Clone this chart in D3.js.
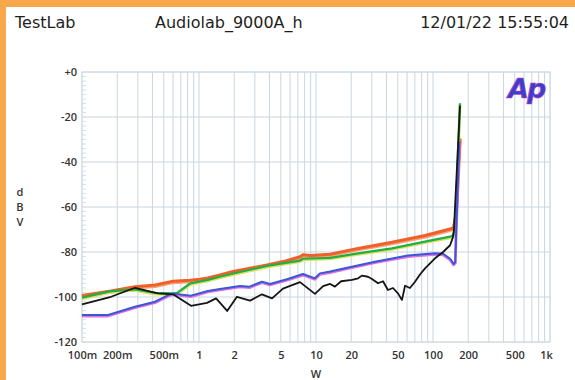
<!DOCTYPE html>
<html>
<head>
<meta charset="utf-8">
<script src="https://cdn.jsdelivr.net/npm/d3@7"></script>
<style>
  html, body { margin: 0; padding: 0; background: #fff; }
  svg { display: block; font-family: "Open Sans", "DejaVu Sans", sans-serif; }
</style>
</head>
<body>
<svg width="575" height="380"></svg>
<script>
// power in W, level in dBV
const xTicks = [0.1, 0.2, 0.5, 1, 2, 5, 10, 20, 50, 100, 200, 500, 1000];
const xTickLabels = ['100m', '200m', '500m', '1', '2', '5', '10', '20', '50', '100', '200', '500', '1k'];
const yTicks = [0, -20, -40, -60, -80, -100, -120];
const yTickLabels = ['+0', '-20', '-40', '-60', '-80', '-100', '-120'];

const orangeW  = [0.1, 0.177, 0.284, 0.421, 0.6, 0.84, 1.02, 1.19, 1.51, 1.95, 2.4, 3.81, 5.5, 7.3, 7.74, 9.0, 13.2, 22.9, 44.6, 85.5, 140, 150, 157, 170];
const orangeDb = [-99.3, -97.3, -95.4, -94.7, -93.0, -92.6, -92.1, -91.5, -90.2, -88.7, -87.8, -85.8, -84.0, -82.1, -81.2, -81.6, -81.0, -78.4, -75.7, -72.7, -69.8, -69.3, -64, -29.5];

const greenW  = [0.1, 0.173, 0.284, 0.421, 0.6, 0.65, 0.84, 1.19, 1.5, 2.24, 3.8, 7.3, 7.74, 13.2, 22.9, 44.6, 85.5, 140, 150, 157, 170];
const greenDb = [-100.3, -97.5, -96.6, -98.2, -98.4, -98.2, -94.0, -92.4, -91.0, -88.9, -86.2, -83.8, -83.0, -82.6, -80.6, -78.4, -75.4, -73.2, -72.5, -65, -13.9];

const blueW  = [0.1, 0.167, 0.284, 0.421, 0.565, 0.6, 0.855, 1.19, 1.51, 2.24, 2.7, 3.45, 4.04, 5.65, 7.74, 9.8, 10.8, 13.2, 17.7, 31.9, 61.1, 104, 122, 140, 150, 155, 158, 168];
const blueDb = [-108, -108, -104.3, -102.1, -98.8, -98.5, -99.4, -97.3, -96.4, -95.1, -95.4, -93.2, -94.2, -92.1, -89.8, -91.7, -89.5, -88.7, -87.2, -84.3, -81.6, -80.6, -80.8, -83.0, -85.3, -84.5, -70, -31];

const blackW  = [0.1, 0.177, 0.284, 0.446, 0.6, 0.855, 1.17, 1.4, 1.74, 2.11, 2.73, 3.45, 4.21, 5.22, 7.3, 9.8, 11.5, 13.2, 14.5, 16.4, 20.3, 22.9, 24.7, 27.8, 30.1, 33.9, 37.4, 41.2, 45.5, 50.2, 54.3, 57.7, 63.5, 70.2, 77.4, 85.5, 104, 122, 140, 148, 151, 170];
const blackDb = [-103.3, -99.9, -95.9, -98.4, -98.8, -103.9, -102.6, -100.6, -106.2, -99.9, -101.6, -98.8, -100.6, -96.3, -93.4, -98.6, -95.2, -94.2, -95.4, -93.0, -92.4, -91.7, -90.5, -91.0, -92.0, -93.9, -93.0, -96.9, -96.0, -98.4, -101.3, -95.0, -96.0, -93.2, -90.0, -87.3, -82.8, -80.0, -77.0, -73.5, -70, -15];

const svg = d3.select('svg');

// orange frame strips
svg.append('rect').attr('x', 0).attr('y', 0).attr('width', 575).attr('height', 380).attr('fill', '#f8a74a');
svg.append('rect').attr('x', 6).attr('y', 7).attr('width', 569).attr('height', 373).attr('fill', '#fff');

const x = d3.scaleLog().domain([0.1, 1000]).range([82, 550]);
const y = d3.scaleLinear().domain([-120, 0]).range([342, 72]);

// grid
const grid = svg.append('g');
const minorX = [];
[0.1, 1, 10, 100].forEach(dec => { for (let k = 1; k <= 9; k++) minorX.push(dec * k); });
minorX.push(1000);
grid.selectAll('line.vx').data(minorX).enter().append('line')
    .attr('x1', d => x(d)).attr('x2', d => x(d))
    .attr('y1', y(0)).attr('y2', y(-120))
    .attr('stroke', '#c8d6e0').attr('stroke-width', 1);
grid.selectAll('line.hy').data(yTicks).enter().append('line')
    .attr('x1', x(0.1)).attr('x2', x(1000))
    .attr('y1', d => y(d)).attr('y2', d => y(d))
    .attr('stroke', '#c8d6e0').attr('stroke-width', 1);
grid.selectAll('line.my').data(d3.range(-120, 0, 2)).enter().append('line')
    .attr('x1', x(0.1)).attr('x2', x(0.1) + 4)
    .attr('y1', d => y(d)).attr('y2', d => y(d))
    .attr('stroke', '#d8e0e6').attr('stroke-width', 1);
svg.append('rect')
    .attr('x', x(0.1)).attr('y', y(0))
    .attr('width', x(1000) - x(0.1)).attr('height', y(-120) - y(0))
    .attr('fill', 'none').attr('stroke', '#d3dce2');

// axes labels
const axX = svg.append('g').attr('transform', 'translate(0,' + y(-120) + ')')
    .call(d3.axisBottom(x).tickValues(xTicks).tickSize(0).tickPadding(9)
      .tickFormat((d, i) => xTickLabels[i]));
axX.select('.domain').remove();
axX.selectAll('text').attr('font-size', 11).attr('font-weight', 600).attr('fill', '#333')
    .attr('font-family', '"Open Sans", sans-serif');
axX.selectAll('.tick').filter(d => d === 1000).select('text').attr('dx', -4);

const axY = svg.append('g').attr('transform', 'translate(' + x(0.1) + ',0)')
    .call(d3.axisLeft(y).tickValues(yTicks).tickSize(0).tickPadding(5)
      .tickFormat((d, i) => yTickLabels[i]));
axY.select('.domain').remove();
axY.selectAll('text').attr('font-size', 11).attr('font-weight', 600).attr('fill', '#333')
    .attr('font-family', '"Open Sans", sans-serif');

['d', 'B', 'V'].forEach((c, i) => {
  svg.append('text').attr('x', 20).attr('y', 196 + i * 15)
      .attr('text-anchor', 'middle').attr('font-size', 11).attr('font-weight', 600)
      .attr('fill', '#333').text(c);
});
svg.append('text').attr('x', x(10)).attr('y', 378)
    .attr('text-anchor', 'middle').attr('font-size', 11).attr('font-weight', 600)
    .attr('fill', '#333').text('W');

// header
const head = [['TestLab', 15, 'start'], ['Audiolab_9000A_h', 155, 'start'], ['12/01/22 15:55:04', 569, 'end']];
head.forEach(h => {
  svg.append('text').attr('x', h[1]).attr('y', 28)
      .attr('text-anchor', h[2])
      .attr('font-family', '"DejaVu Sans", sans-serif')
      .attr('font-size', 16).attr('fill', '#1e1e1e').text(h[0]);
});

// Ap logo
svg.append('text').attr('x', 508).attr('y', 98)
    .attr('font-size', 27).attr('font-weight', 700).attr('font-style', 'italic')
    .attr('font-family', '"DejaVu Sans", sans-serif')
    .attr('fill', '#3d3fc6').attr('stroke', '#c040d0').attr('stroke-width', 0.6)
    .attr('letter-spacing', -2).text('Ap');

// traces
const line = d3.line().x(d => x(d[0])).y(d => y(d[1]));
const series = [
  {w: orangeW, db: orangeDb, color: '#f0602a', shadow: '#f8a070', width: 3},
  {w: greenW, db: greenDb, color: '#1fae48', shadow: '#e0e060', width: 2.2},
  {w: blueW, db: blueDb, color: '#3a58d6', shadow: '#e070e0', width: 2},
  {w: blackW, db: blackDb, color: '#151515', shadow: null, width: 1.8}
];
const traces = svg.append('g');
series.forEach(s => {
  const pts = s.w.map((w, i) => [w, s.db[i]]);
  if (s.shadow) {
    traces.append('path').datum(pts).attr('d', line)
        .attr('fill', 'none').attr('stroke', s.shadow).attr('stroke-width', s.width + 0.8)
        .attr('transform', 'translate(0,1)').attr('stroke-linejoin', 'round');
  }
  traces.append('path').datum(pts).attr('d', line)
      .attr('fill', 'none').attr('stroke', s.color).attr('stroke-width', s.width)
      .attr('stroke-linejoin', 'round');
});
</script>
</body>
</html>
